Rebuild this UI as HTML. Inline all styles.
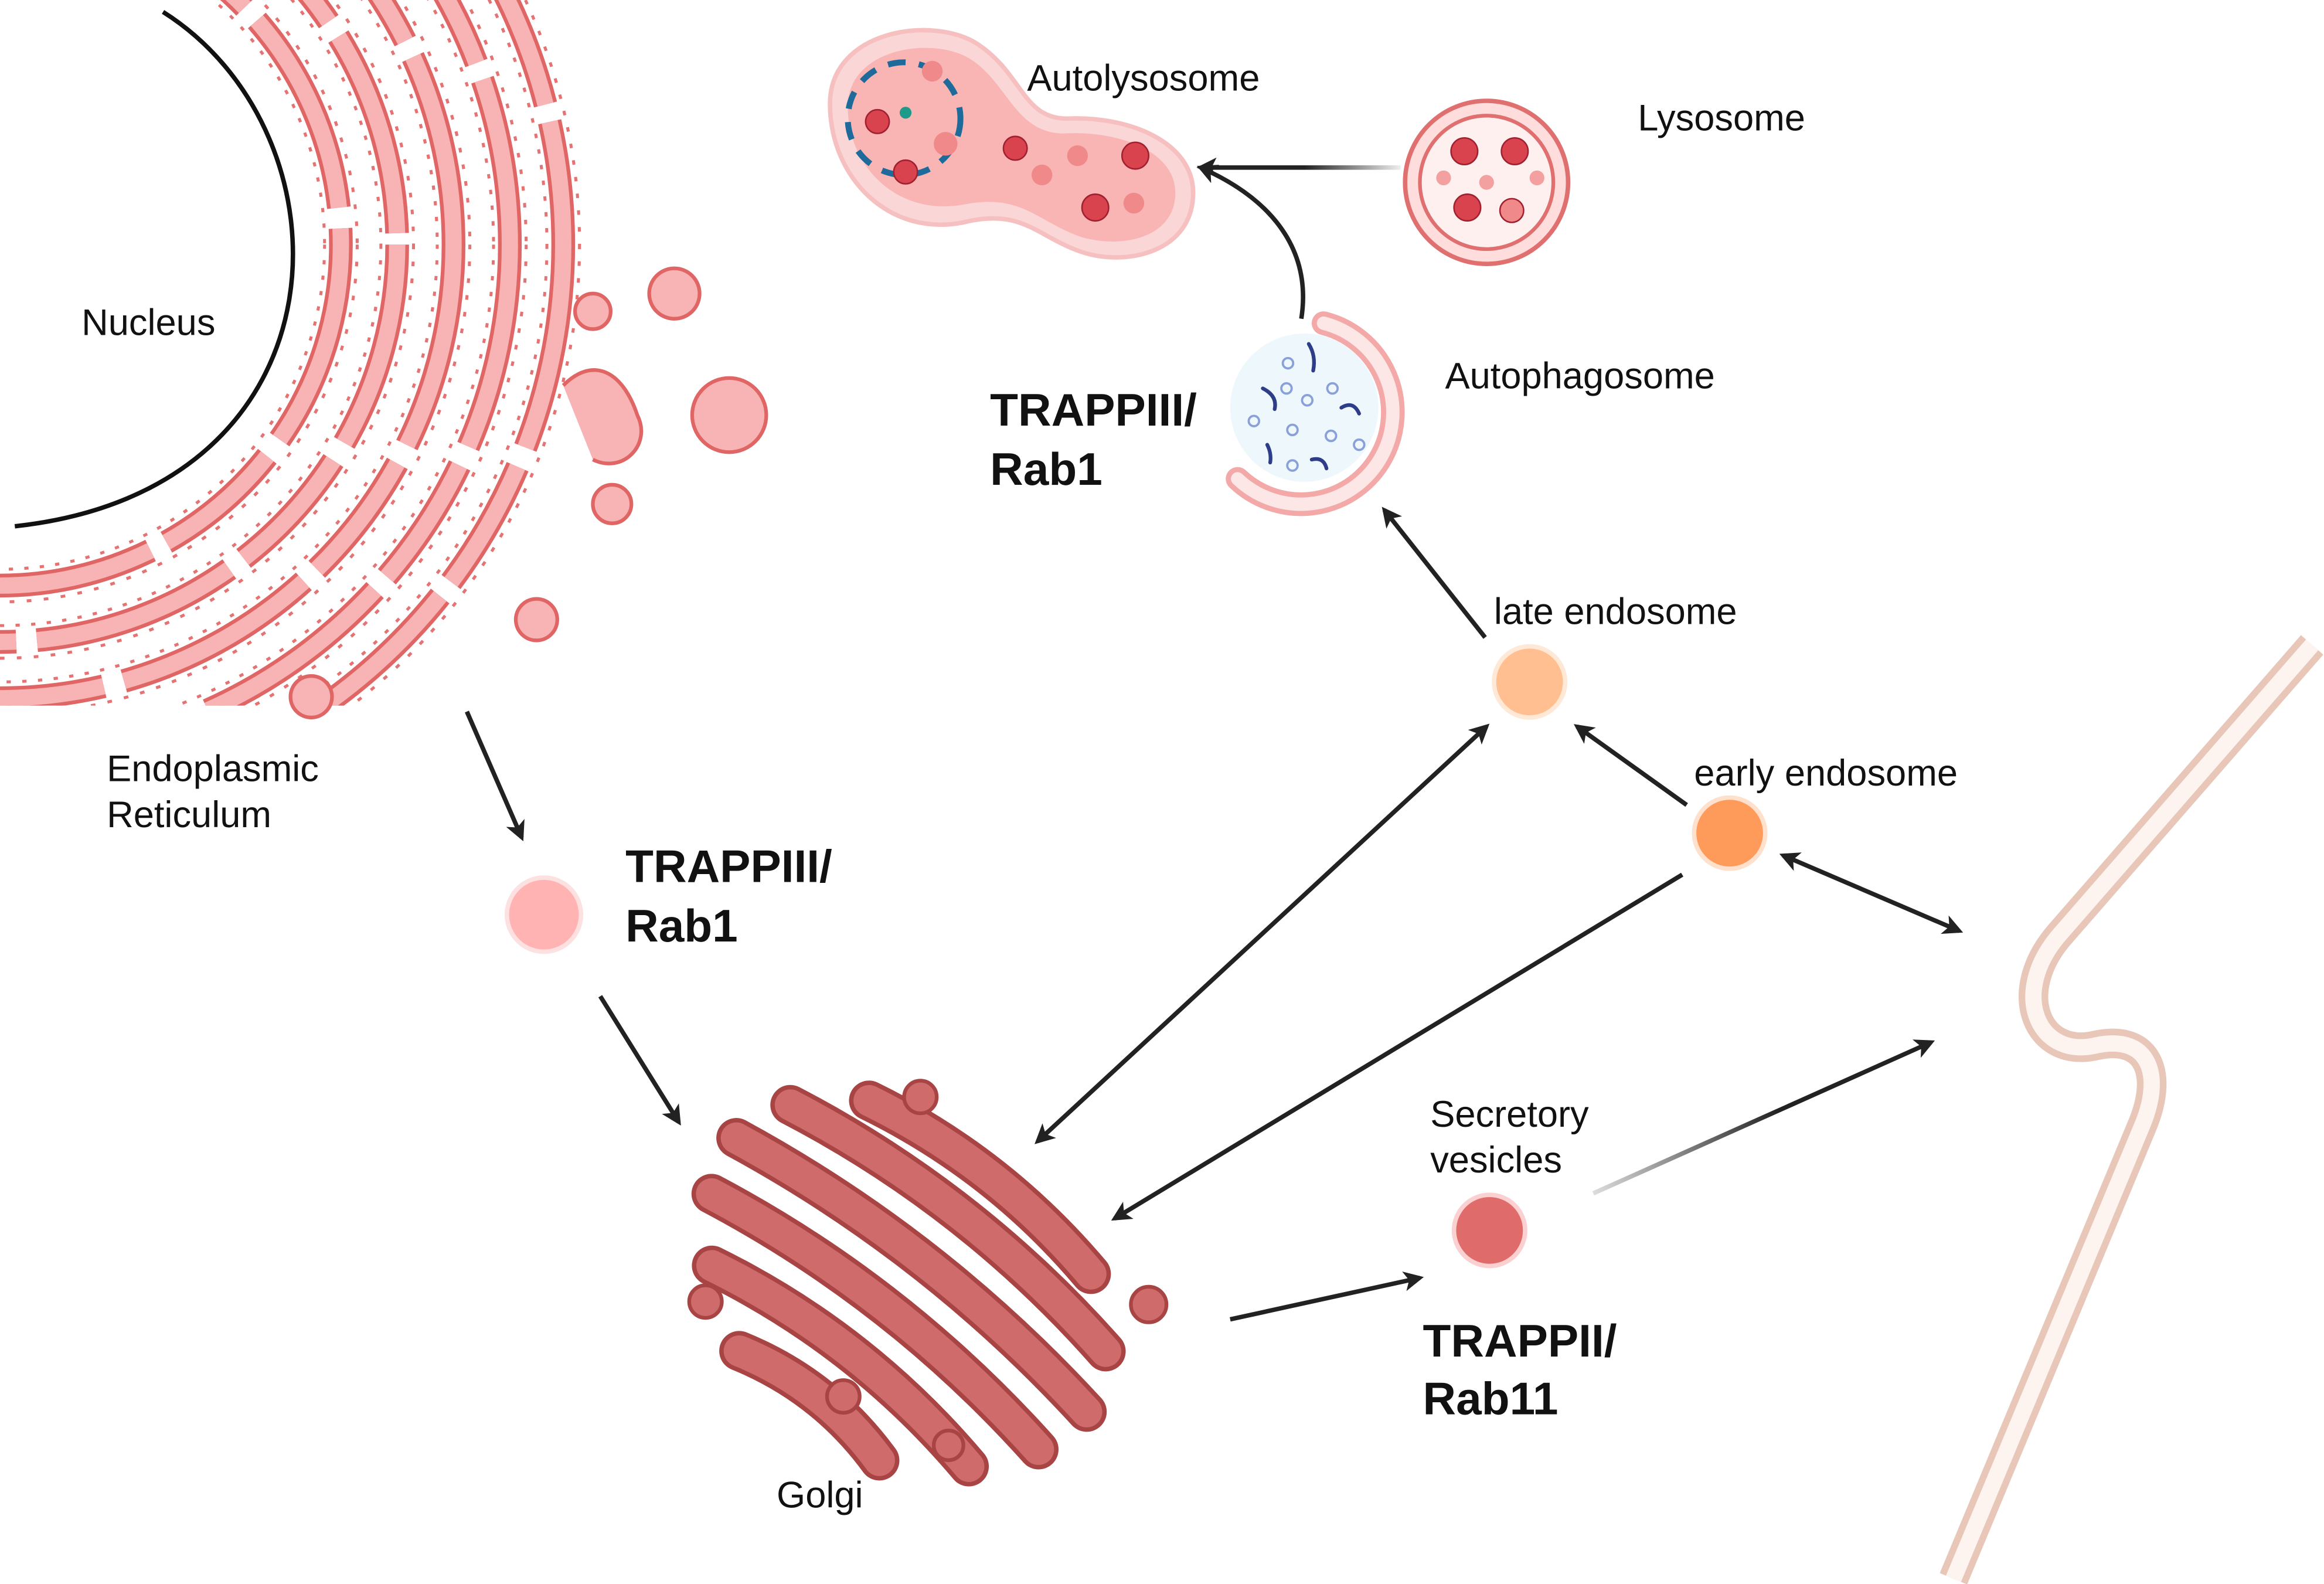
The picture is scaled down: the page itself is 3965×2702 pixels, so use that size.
<!DOCTYPE html>
<html><head><meta charset="utf-8"><style>
html,body{margin:0;padding:0;background:#fff}
svg{display:block}
text{font-family:"Liberation Sans",sans-serif;fill:#111}
.b{font-weight:bold;font-size:31px}
.n{font-size:25px}
</style></head><body>
<svg width="3965" height="2702" viewBox="0 0 1568 1068.5" xmlns="http://www.w3.org/2000/svg">
<defs>
<marker id="ah" viewBox="0 0 10 10" refX="8" refY="5" markerWidth="4.5" markerHeight="4.5" orient="auto-start-reverse"><path d="M0,0 L10,5 L0,10 L2.5,5 z" fill="#222"/></marker>
<clipPath id="erc"><polygon points="0,160 160,-180 700,-180 700,476 -50,476 -50,380"/></clipPath>
<linearGradient id="g1" gradientUnits="userSpaceOnUse" x1="1075" y1="805" x2="1200" y2="750"><stop offset="0" stop-color="#ddd"/><stop offset="1" stop-color="#222"/></linearGradient>
<linearGradient id="g2" gradientUnits="userSpaceOnUse" x1="945" y1="113" x2="880" y2="113"><stop offset="0" stop-color="#eee"/><stop offset="1" stop-color="#222"/></linearGradient>
</defs>

<!-- Nucleus -->
<path d="M110,8 C240,90 240,330 10,355" fill="none" stroke="#111" stroke-width="3"/>
<text x="55" y="226" class="n">Nucleus</text>

<!-- ER -->
<g clip-path="url(#erc)" fill="none">
 <g stroke="#e57373" stroke-width="24" stroke-dasharray="3 8">
  <circle cx="0" cy="165" r="230"/><circle cx="0" cy="165" r="268"/><circle cx="0" cy="165" r="306"/><circle cx="0" cy="165" r="344"/><circle cx="0" cy="165" r="380"/>
 </g>
 <g stroke="#fff" stroke-width="20">
  <circle cx="0" cy="165" r="230"/><circle cx="0" cy="165" r="268"/><circle cx="0" cy="165" r="306"/><circle cx="0" cy="165" r="344"/><circle cx="0" cy="165" r="380"/>
 </g>
 <g stroke="#e06666" stroke-width="16" stroke-dasharray="140 14 90 12">
  <circle cx="0" cy="165" r="230"/><circle cx="0" cy="165" r="268"/><circle cx="0" cy="165" r="306"/><circle cx="0" cy="165" r="344"/><circle cx="0" cy="165" r="380"/>
 </g>
 <g stroke="#f8b4b4" stroke-width="11" stroke-dasharray="140 14 90 12">
  <circle cx="0" cy="165" r="230"/><circle cx="0" cy="165" r="268"/><circle cx="0" cy="165" r="306"/><circle cx="0" cy="165" r="344"/><circle cx="0" cy="165" r="380"/>
 </g>
</g>
<path d="M380,260 C400,240 420,250 430,280 C440,300 420,320 400,310" fill="#f8b4b4" stroke="#e06666" stroke-width="2.5"/>
<g fill="#f8b4b4" stroke="#e06666" stroke-width="2.5">
<circle cx="455" cy="198" r="17"/><circle cx="492" cy="280" r="25"/><circle cx="413" cy="340" r="13"/><circle cx="362" cy="418" r="14"/><circle cx="210" cy="470" r="14"/><circle cx="400" cy="210" r="12"/>
</g>
<text x="72" y="527" class="n">Endoplasmic</text>
<text x="72" y="558" class="n">Reticulum</text>

<!-- ER vesicle -->
<line x1="315" y1="480" x2="352" y2="565" stroke="#222" stroke-width="3" marker-end="url(#ah)"/>
<circle cx="367" cy="617" r="25" fill="#ffb3b3" stroke="#fde0e0" stroke-width="3"/>
<text x="422" y="595" class="b">TRAPPIII/</text>
<text x="422" y="635" class="b">Rab1</text>
<line x1="405" y1="672" x2="458" y2="757" stroke="#222" stroke-width="3" marker-end="url(#ah)"/>

<!-- Golgi -->
<g transform="translate(615,860) rotate(38)" fill="none" stroke-linecap="round">
 <g stroke="#a84444" stroke-width="27">
  <path d="M-95,-75 Q0,-95 95,-75"/><path d="M-135,-40 Q0,-65 135,-40"/><path d="M-150,0 Q0,-25 150,0"/><path d="M-140,40 Q0,15 140,40"/><path d="M-110,78 Q0,55 110,78"/><path d="M-60,112 Q0,95 60,112"/>
 </g>
 <g stroke="#d06b6b" stroke-width="21">
  <path d="M-95,-75 Q0,-95 95,-75"/><path d="M-135,-40 Q0,-65 135,-40"/><path d="M-150,0 Q0,-25 150,0"/><path d="M-140,40 Q0,15 140,40"/><path d="M-110,78 Q0,55 110,78"/><path d="M-60,112 Q0,95 60,112"/>
 </g>
</g>
<g fill="#d06b6b" stroke="#a84444" stroke-width="2.5">
<circle cx="621" cy="740" r="11"/><circle cx="476" cy="878" r="11"/><circle cx="775" cy="880" r="12"/><circle cx="569" cy="942" r="11"/><circle cx="640" cy="975" r="10"/>
</g>
<text x="524" y="1017" class="n">Golgi</text>

<!-- Secretory -->
<line x1="830" y1="890" x2="958" y2="862" stroke="#222" stroke-width="3" marker-end="url(#ah)"/>
<circle cx="1005" cy="830" r="24" fill="#e06b6b" stroke="#fbd0d0" stroke-width="3"/>
<text x="965" y="760" class="n">Secretory</text>
<text x="965" y="791" class="n">vesicles</text>
<text x="960" y="915" class="b">TRAPPII/</text>
<text x="960" y="954" class="b">Rab11</text>
<line x1="1075" y1="805" x2="1303" y2="703" stroke="url(#g1)" stroke-width="3" marker-end="url(#ah)"/>

<!-- Membrane -->
<path d="M1560,435 L1390,630 C1355,670 1375,715 1415,705 C1450,698 1460,725 1445,760 L1318,1065" fill="none" stroke="#e8c6b8" stroke-width="20"/>
<path d="M1560,435 L1390,630 C1355,670 1375,715 1415,705 C1450,698 1460,725 1445,760 L1318,1065" fill="none" stroke="#fdf3ef" stroke-width="11"/>

<!-- endosomes -->
<circle cx="1167" cy="562" r="24" fill="#ff9b5a" stroke="#ffe0cc" stroke-width="3"/>
<text x="1143" y="530" class="n">early endosome</text>
<circle cx="1032" cy="460" r="24" fill="#ffbf90" stroke="#ffe8d6" stroke-width="3"/>
<text x="1008" y="421" class="n">late endosome</text>
<line x1="1138" y1="543" x2="1064" y2="490" stroke="#222" stroke-width="3" marker-end="url(#ah)"/>
<line x1="1203" y1="577" x2="1322" y2="628" stroke="#222" stroke-width="3" marker-start="url(#ah)" marker-end="url(#ah)"/>
<line x1="1135" y1="590" x2="752" y2="822" stroke="#222" stroke-width="3" marker-end="url(#ah)"/>
<line x1="1003" y1="490" x2="700" y2="770" stroke="#222" stroke-width="3" marker-start="url(#ah)" marker-end="url(#ah)"/>
<line x1="1002" y1="430" x2="934" y2="344" stroke="#222" stroke-width="3" marker-end="url(#ah)"/>

<!-- Autophagosome -->
<circle cx="880" cy="275" r="50" fill="#eef8fc"/>
<path d="M893,218 A62,62 0 1 1 835,323" fill="none" stroke="#f4a9a9" stroke-width="16" stroke-linecap="round"/>
<path d="M893,218 A62,62 0 1 1 835,323" fill="none" stroke="#fde6e6" stroke-width="9" stroke-linecap="round"/>
<g fill="none" stroke="#8aa0d8" stroke-width="1.5">
<circle cx="869" cy="245" r="3.5"/><circle cx="899" cy="262" r="3.5"/><circle cx="846" cy="284" r="3.5"/><circle cx="872" cy="290" r="3.5"/><circle cx="898" cy="294" r="3.5"/><circle cx="882" cy="270" r="3.5"/><circle cx="868" cy="262" r="3.5"/><circle cx="917" cy="300" r="3.5"/><circle cx="872" cy="314" r="3.5"/>
</g>
<g fill="none" stroke="#2e3d8a" stroke-width="2.5" stroke-linecap="round">
<path d="M883,232 q5,8 3,18"/><path d="M852,262 q10,5 8,14"/><path d="M905,275 q8,-5 12,4"/><path d="M855,300 q3,6 2,12"/><path d="M885,310 q8,-2 10,6"/>
</g>
<text x="975" y="262" class="n">Autophagosome</text>
<text x="668" y="287" class="b">TRAPPIII/</text>
<text x="668" y="327" class="b">Rab1</text>
<path d="M878,215 C885,170 860,135 810,113" fill="none" stroke="#222" stroke-width="3" marker-end="url(#ah)"/>
<line x1="945" y1="113" x2="810" y2="113" stroke="url(#g2)" stroke-width="3" marker-end="url(#ah)"/>

<!-- Lysosome -->
<circle cx="1003" cy="123" r="55" fill="#fdd" stroke="#e07070" stroke-width="3"/>
<circle cx="1003" cy="123" r="45" fill="#fff0f0" stroke="#e07070" stroke-width="2.5"/>
<g fill="#d9434e" stroke="#a02030" stroke-width="1">
<circle cx="988" cy="102" r="9"/><circle cx="1022" cy="102" r="9"/><circle cx="990" cy="140" r="9"/><circle cx="1020" cy="142" r="8" fill="#f08a8a"/>
</g>
<g fill="#f3a0a0"><circle cx="974" cy="120" r="5"/><circle cx="1003" cy="123" r="5"/><circle cx="1037" cy="120" r="5"/></g>
<text x="1105" y="88" class="n">Lysosome</text>

<!-- Autolysosome -->
<path d="M560,70 C560,20 630,10 660,30 C690,50 690,80 720,80 C760,78 805,95 805,130 C805,170 760,180 730,170 C700,160 690,140 650,150 C600,160 560,120 560,70 Z" fill="#fbd6d6" stroke="#f6c0c0" stroke-width="3"/>
<path d="M572,72 C572,32 630,24 655,40 C680,56 685,90 718,90 C755,88 793,102 793,130 C793,160 758,168 730,160 C700,150 690,130 650,138 C605,146 572,112 572,72 Z" fill="#f9b4b4"/>
<circle cx="610" cy="80" r="38" fill="none" stroke="#1e6a9a" stroke-width="4" stroke-dasharray="12 9"/>
<g fill="#d9434e" stroke="#a02030" stroke-width="1">
<circle cx="592" cy="82" r="8"/><circle cx="611" cy="116" r="8"/><circle cx="685" cy="100" r="8"/><circle cx="766" cy="105" r="9"/><circle cx="739" cy="140" r="9"/>
</g>
<g fill="#f08a8a"><circle cx="629" cy="48" r="7"/><circle cx="638" cy="97" r="8"/><circle cx="703" cy="118" r="7"/><circle cx="727" cy="105" r="7"/><circle cx="765" cy="137" r="7"/></g>
<circle cx="611" cy="76" r="4" fill="#1e9a8a"/>
<text x="693" y="61" class="n">Autolysosome</text>
</svg>
</body></html>
